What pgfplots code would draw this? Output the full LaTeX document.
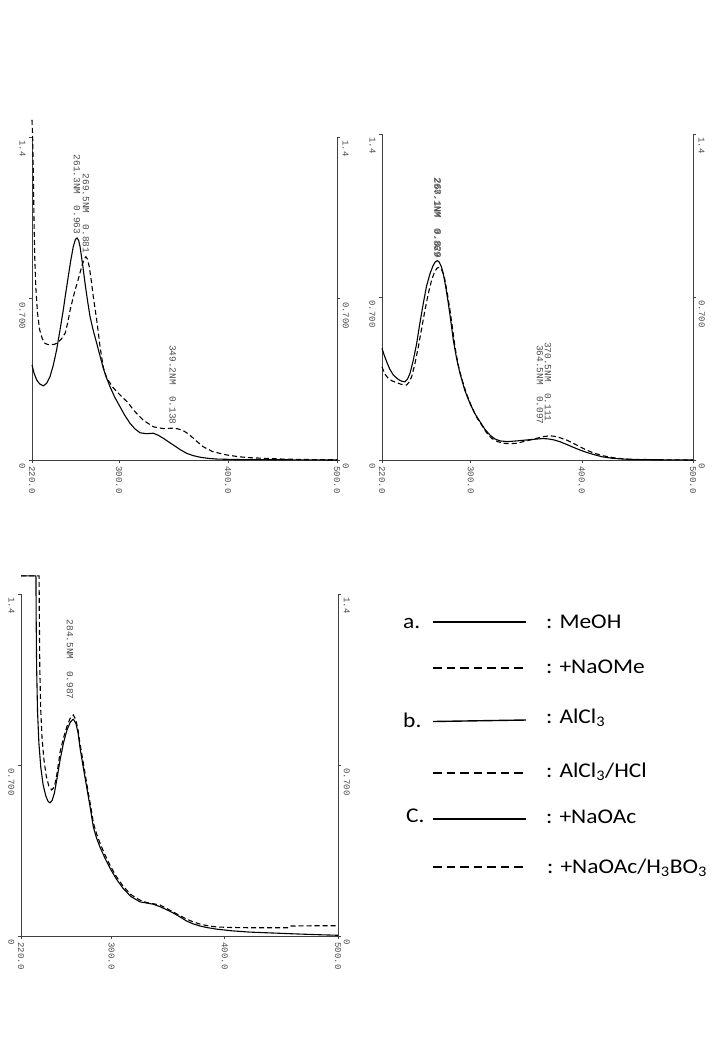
\documentclass[border=0pt]{standalone}
\usepackage{pgfplots}
\pgfplotsset{compat=1.18}
\usepackage{graphicx}
\usepackage{fontspec}
\newfontfamily\monofnt{Liberation Mono}
\newfontfamily\calfnt{Carlito}
\newcommand{\tickfont}{\monofnt\fontsize{9}{10}\selectfont\color{black!70}}
\newcommand{\annfont}{\monofnt\fontsize{9.5}{10}\selectfont\color{black!70}}
\newcommand{\legfont}{\calfnt\fontsize{21}{24}\selectfont}
\newcommand{\lt}[1]{\scalebox{1.12}[1]{#1}}

\pgfplotsset{
  spec/.style={
    scale only axis, clip=false, anchor=south west,
    xmin=220, xmax=500, ymin=0, ymax=1.4,
    axis x line*=bottom, axis y line*=box,
    axis line style={black!75, line width=0.9bp},
    tick align=outside, major tick length=3bp,
    tick style={black!75, line width=0.8bp},
    xtick={220,300,400,500}, xticklabels={220.0,300.0,400.0,500.0},
    ytick={0,0.7,1.4}, yticklabels={0,0.700,1.4},
    x tick label style={font=\tickfont, rotate=-90, anchor=west},
    y tick label style={font=\tickfont, rotate=-90, anchor=north west},
  },
  sol/.style={black, line width=1.1bp, line join=round},
  das/.style={black, line width=1.1bp, dash pattern=on 5bp off 3bp},
}
\newcommand{\rlabels}{%
  \node[font=\tickfont, rotate=-90, anchor=south west] at (axis cs:502,1.4) {1.4};
  \node[font=\tickfont, rotate=-90, anchor=south west] at (axis cs:502,0.7) {0.700};
  \node[font=\tickfont, rotate=-90, anchor=south west] at (axis cs:502,0) {0};
}

\begin{document}
\begin{tikzpicture}
\path[use as bounding box] (0,0) rectangle (720bp,-1040bp);

% ---------- a: MeOH / NaOMe ----------
\begin{axis}[spec, at={(32bp,-460bp)}, width=305bp, height=323bp]
\addplot[sol] coordinates {(220,0.412)(222,0.375)(224.3,0.347)(227,0.330)(230.4,0.321)(233.5,0.333)(236.5,0.361)(239.5,0.41)(242.6,0.477)(245.6,0.56)(248.7,0.65)(251,0.725)(253.3,0.795)(255.6,0.865)(257.9,0.925)(259.8,0.955)(261.3,0.963)(262.8,0.952)(264.1,0.925)(266.4,0.85)(268.7,0.766)(271,0.69)(273.3,0.621)(276.3,0.56)(279.4,0.506)(282.5,0.45)(285.5,0.397)(288.5,0.355)(291.6,0.318)(296,0.272)(300.8,0.231)(305,0.195)(310,0.159)(314.5,0.135)(319.2,0.118)(325,0.114)(331.4,0.116)(336,0.107)(340.6,0.094)(345,0.08)(349.8,0.065)(356,0.045)(362,0.029)(368,0.019)(374.3,0.012)(382,0.007)(390,0.004)(410,0.002)(450,0.001)(500,0)};
\addplot[das] coordinates {(220,1.474)(220.6,1.40)(221.2,1.25)(221.8,1.05)(222.5,0.88)(223.5,0.75)(225,0.64)(227,0.565)(229.5,0.525)(232,0.505)(235,0.50)(238,0.50)(241,0.502)(244,0.51)(247,0.525)(250.5,0.55)(253,0.60)(255,0.65)(257.3,0.695)(259.6,0.737)(262,0.775)(264,0.81)(266,0.845)(268,0.872)(269.5,0.881)(271,0.87)(272.6,0.837)(274.5,0.775)(276.3,0.707)(279.4,0.607)(282.5,0.49)(285.5,0.40)(288.6,0.355)(294.7,0.312)(300.8,0.282)(308.5,0.247)(313,0.217)(322,0.173)(331.4,0.144)(340.6,0.136)(345,0.137)(349.2,0.138)(354,0.135)(359,0.127)(363.5,0.113)(368,0.095)(372.5,0.076)(377,0.058)(386,0.036)(398.6,0.022)(410,0.014)(420,0.01)(450,0.004)(475,0.002)(500,0.001)};
\rlabels
\node[font=\annfont, rotate=-90, anchor=east] at (axis cs:261.3,0.963) {261.3NM\ \ 0.963};
\node[font=\annfont, rotate=-90, anchor=east] at (axis cs:269.5,0.881) {269.5NM\ \ 0.881};
\node[font=\annfont, rotate=-90, anchor=east] at (axis cs:349.2,0.138) {349.2NM\ \ 0.138};
\end{axis}

% ---------- b: AlCl3 / AlCl3-HCl ----------
\begin{axis}[spec, at={(382bp,-460bp)}, width=311bp, height=326bp]
\addplot[sol] coordinates {(220,0.48)(222,0.45)(224.2,0.422)(227,0.39)(230.2,0.365)(234.7,0.346)(238,0.338)(240.7,0.336)(243,0.348)(245.2,0.372)(248,0.425)(251.2,0.50)(254,0.585)(257.2,0.673)(260,0.745)(263.2,0.80)(266,0.835)(268,0.851)(269.8,0.856)(271.5,0.85)(273.5,0.83)(275.2,0.80)(277.5,0.74)(279.7,0.673)(282,0.595)(284.2,0.515)(287,0.44)(290.2,0.372)(294.5,0.30)(299.2,0.243)(303.5,0.2)(308.2,0.165)(312.5,0.133)(317.2,0.107)(321.5,0.091)(326.2,0.082)(333,0.079)(341.2,0.082)(350,0.086)(359.2,0.09)(364.5,0.092)(369,0.091)(374.2,0.087)(380,0.079)(386.2,0.067)(392,0.055)(398.2,0.043)(404,0.033)(410.2,0.024)(418,0.014)(428.2,0.007)(437,0.004)(446.2,0.002)(470,0.001)(500,0)};
\addplot[das] coordinates {(220,0.40)(222.5,0.37)(225.7,0.35)(229,0.34)(233.2,0.332)(237.5,0.325)(242.2,0.322)(244.5,0.335)(246.7,0.358)(249.5,0.41)(252.7,0.486)(255.7,0.565)(258.7,0.644)(261.7,0.715)(264.7,0.773)(267.5,0.81)(269.8,0.825)(271.6,0.827)(273.5,0.82)(275,0.80)(276.7,0.773)(279,0.71)(281.2,0.644)(283.5,0.565)(285.7,0.486)(288.5,0.41)(291.7,0.351)(296,0.285)(300.7,0.229)(305,0.185)(309.7,0.15)(314,0.118)(318.7,0.093)(323.5,0.08)(329.2,0.072)(335,0.07)(341.2,0.072)(350,0.082)(359.2,0.093)(365,0.1)(370.5,0.104)(375,0.102)(380,0.096)(386.2,0.086)(392,0.072)(398.2,0.057)(404,0.043)(410.2,0.031)(418,0.019)(428.2,0.01)(437,0.005)(446,0.003)(470,0.001)(500,0)};
\rlabels
\node[font=\annfont, rotate=-90, anchor=east] at (axis cs:269.8,0.856) {267.1NM\ \ 0.869};
\node[font=\annfont, rotate=-90, anchor=east] at (axis cs:270.5,0.852) {268.1NM\ \ 0.829};
\node[font=\annfont, rotate=-90, anchor=east] at (axis cs:369.4,0.15) {370.5NM\ \ 0.111};
\node[font=\annfont, rotate=-90, anchor=east] at (axis cs:362.2,0.137) {364.5NM\ \ 0.097};
\end{axis}

% ---------- c: NaOAc / NaOAc-H3BO3 ----------
\begin{axis}[spec, at={(21bp,-936bp)}, width=317bp, height=342bp]
\addplot[sol] coordinates {(220,1.474)(233.2,1.474)(233.4,1.30)(233.8,1.10)(234.6,0.92)(235.8,0.79)(237.5,0.69)(239.5,0.62)(241.8,0.575)(243.8,0.552)(245.6,0.545)(247.5,0.555)(249.5,0.585)(252,0.65)(254.5,0.72)(257.5,0.79)(260.6,0.843)(263.5,0.875)(266.2,0.888)(268.5,0.87)(270.5,0.83)(272,0.774)(275,0.69)(278,0.61)(281,0.53)(283.9,0.446)(286.8,0.40)(289.8,0.364)(294,0.32)(298.6,0.278)(304,0.235)(310,0.196)(317,0.162)(325,0.14)(331,0.135)(337,0.13)(342.8,0.12)(348.5,0.108)(354.6,0.094)(360.5,0.078)(366.4,0.061)(372,0.05)(378,0.041)(385,0.034)(393,0.028)(407,0.021)(422,0.016)(444,0.012)(466,0.008)(485,0.005)(500,0.003)};
\addplot[das] coordinates {(220,1.474)(236,1.474)(236.2,1.30)(236.6,1.10)(237.4,0.93)(238.6,0.81)(240.3,0.72)(242.3,0.655)(244.5,0.615)(247.1,0.598)(249.5,0.61)(252,0.67)(254.5,0.753)(257.5,0.81)(260.4,0.855)(263.3,0.89)(266.2,0.905)(268.5,0.885)(270.5,0.84)(272,0.79)(275,0.71)(278,0.626)(281,0.545)(284,0.462)(287,0.415)(289.8,0.38)(294,0.334)(298.6,0.29)(304,0.245)(310,0.205)(317,0.17)(325,0.147)(331,0.137)(337,0.132)(342.8,0.127)(348.5,0.113)(354.6,0.098)(360.5,0.083)(366.4,0.069)(372,0.058)(378,0.049)(385,0.042)(393,0.037)(405,0.035)(420,0.034)(440,0.034)(457,0.034)(458.5,0.041)(480,0.042)(500,0.042)};
\rlabels
\node[font=\annfont, rotate=-90, anchor=east] at (axis cs:263.3,0.954) {284.5NM\ \ 0.987};
\end{axis}

% ---------- legend ----------
\begin{axis}[at={(0bp,-1040bp)}, anchor=south west, scale only axis, width=720bp, height=1040bp,
  xmin=0, xmax=720, ymin=-1040, ymax=0, hide axis, clip=false]
\addplot[black, line width=1.4bp] coordinates {(433,-622)(526,-622)};
\addplot[black, line width=1.4bp, dash pattern=on 8.5bp off 5bp] coordinates {(433,-668)(526,-668)};
\addplot[black, line width=1.4bp] coordinates {(433,-721.5)(526,-720)};
\addplot[black, line width=1.4bp, dash pattern=on 8.5bp off 5bp] coordinates {(433,-773)(526,-773)};
\addplot[black, line width=1.4bp] coordinates {(433,-819)(526,-819)};
\addplot[black, line width=1.4bp, dash pattern=on 8.5bp off 5bp] coordinates {(433,-867)(526,-867)};
\node[font=\legfont, anchor=base west, inner sep=0pt] at (axis cs:403,-628) {\lt{a.}};
\node[font=\legfont, anchor=base west, inner sep=0pt] at (axis cs:546,-628) {\lt{: MeOH}};
\node[font=\legfont, anchor=base west, inner sep=0pt] at (axis cs:546,-673) {\lt{: +NaOMe}};
\node[font=\legfont, anchor=base west, inner sep=0pt] at (axis cs:403,-727) {\lt{b.}};
\node[font=\legfont, anchor=base west, inner sep=0pt] at (axis cs:546,-723) {\lt{: AlCl\textsubscript{3}}};
\node[font=\legfont, anchor=base west, inner sep=0pt] at (axis cs:546,-777) {\lt{: AlCl\textsubscript{3}/HCl}};
\node[font=\legfont, anchor=base west, inner sep=0pt] at (axis cs:406,-822) {\lt{C.}};
\node[font=\legfont, anchor=base west, inner sep=0pt] at (axis cs:546,-823) {\lt{: +NaOAc}};
\node[font=\legfont, anchor=base west, inner sep=0pt] at (axis cs:547,-873) {\lt{: +NaOAc/H\textsubscript{3}BO\textsubscript{3}}};
\end{axis}
\end{tikzpicture}
\end{document}
